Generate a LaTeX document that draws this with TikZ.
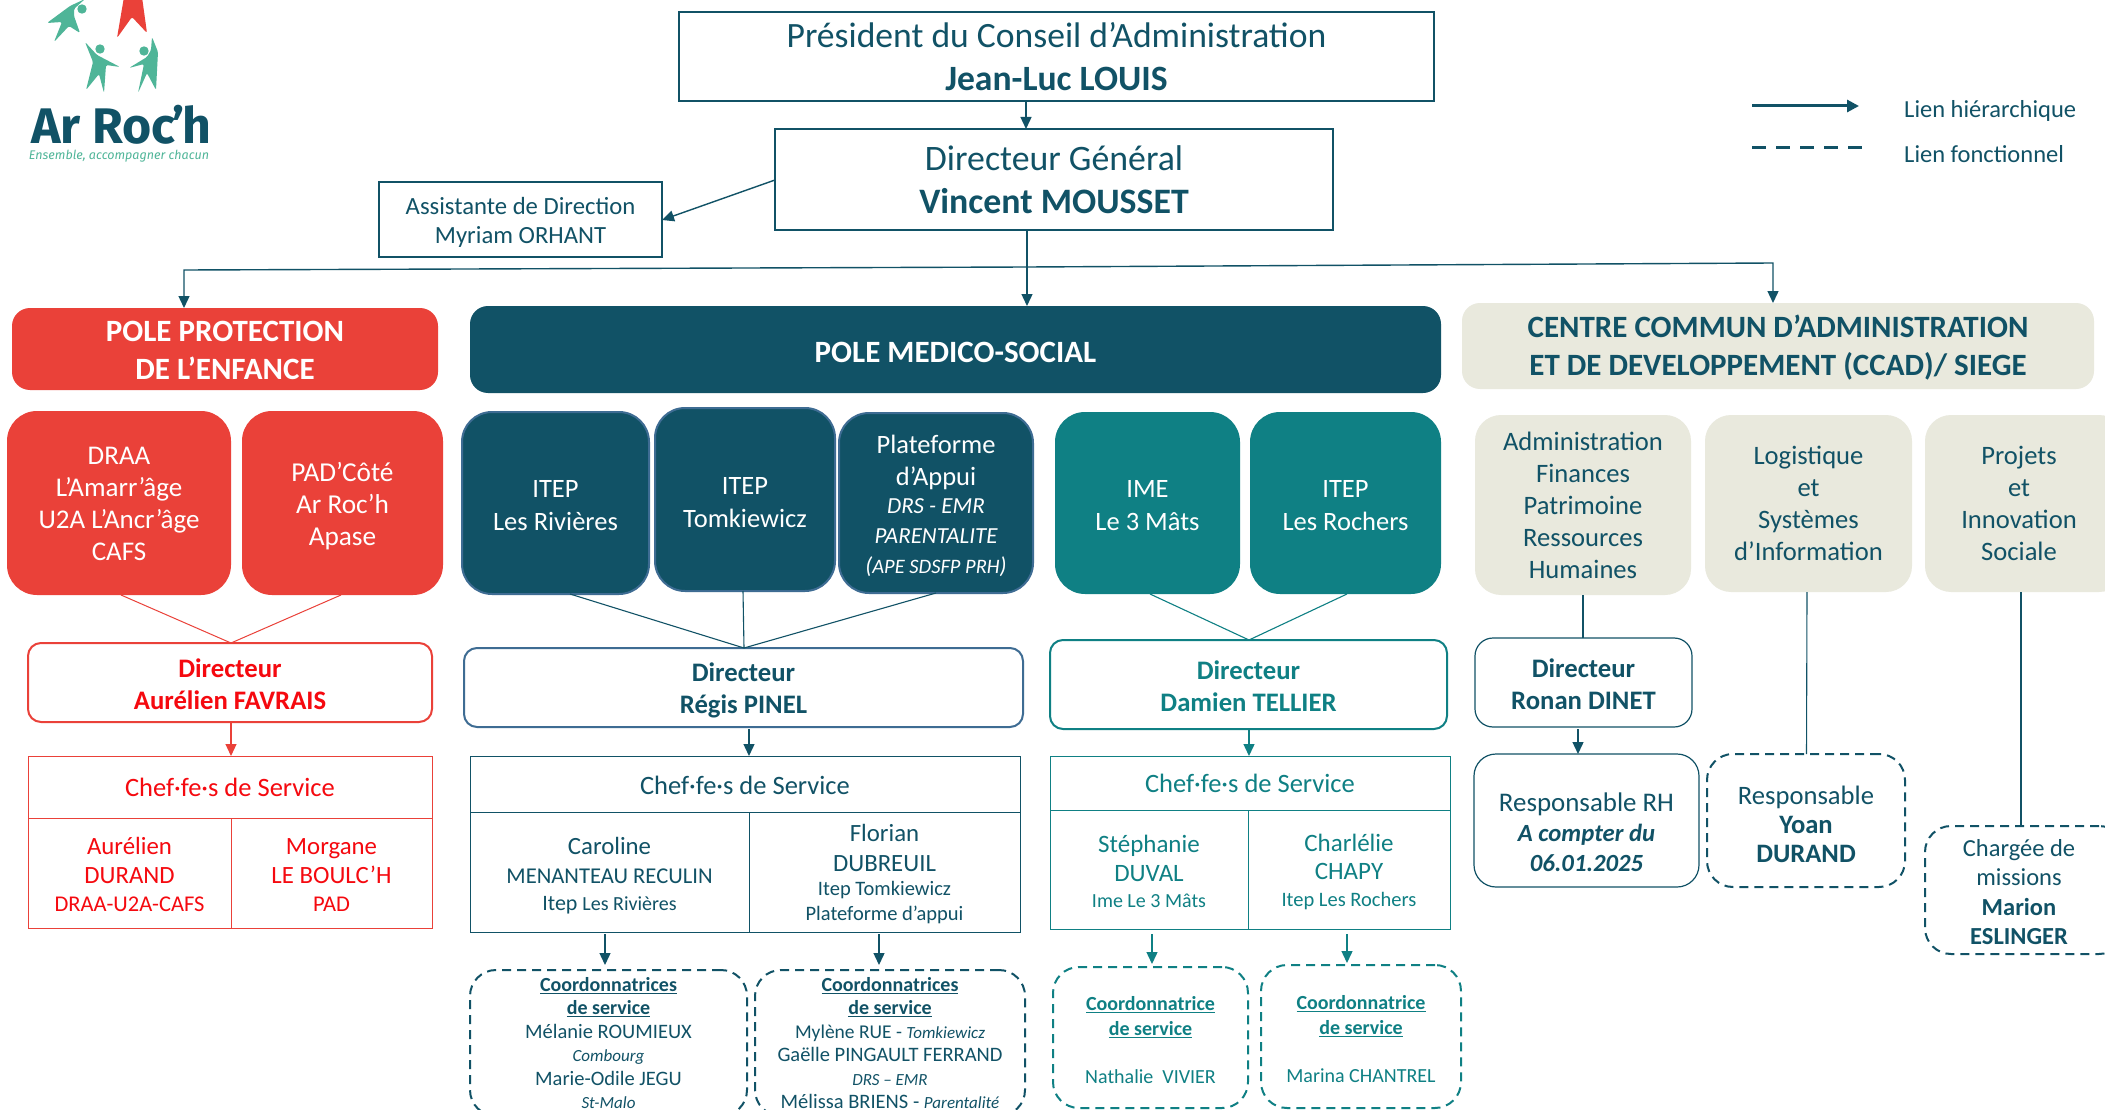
\documentclass[tikz,border=0pt]{standalone}
\usepackage{fontspec}
\setmainfont{Carlito}
\newfontfamily\logofont{Fira Sans}
\usetikzlibrary{arrows.meta}
\definecolor{dk}{HTML}{115266}
\definecolor{tl}{HTML}{0F8084}
\definecolor{rd}{HTML}{EA4139}
\definecolor{rt}{HTML}{F5090F}
\definecolor{bg}{HTML}{E9E9DD}
\definecolor{bl}{HTML}{3E6C93}
\definecolor{lg}{HTML}{4FB598}
\newcommand{\myfs}[2]{\fontsize{#1}{#2}\selectfont}
\newcommand{\bx}[7]{\node[inner sep=0pt,outer sep=0pt,align=center,#6,minimum width={(#4-#2)*1pt},minimum height={(#5-#3)*1pt}] (#1) at ({(#2+#4)/2},{(#3+#5)/2}) {#7};}
\newcommand{\vlink}[4]{\draw[#4] (#1,0 |- #2.south) -- (#1,0 |- #3.north);}
\newcommand{\sz}[2]{{\fontsize{#1}{#1}\selectfont #2}}
\newcommand{\cbold}[1]{{\bfseries\underline{#1}}}
\newcommand{\nd}[1]{\rule{0pt}{\dimexpr0.74em+#1pt\relax}}
\tikzset{
 arr/.style={draw=dk,line width=1.4pt,-{Triangle[width=11pt,length=12pt]}},
 arrt/.style={draw=tl,line width=1.4pt,-{Triangle[width=11pt,length=12pt]}},
 arrr/.style={draw=rd,line width=1.2pt,-{Triangle[width=11pt,length=12pt]}},
 thin1/.style={draw=dk,line width=1.1pt},
 thint/.style={draw=tl,line width=1.1pt},
 thinr/.style={draw=rd,line width=1pt},
 sq/.style={draw=dk,line width=2pt,text=dk},
 solidred/.style={fill=rd,text=white,rounded corners=18pt},
 cellr/.style={draw=rd,line width=0.9pt,text=rt},
 celld/.style={draw=dk,line width=0.9pt,text=dk},
 cellt/.style={draw=tl,line width=0.9pt,text=tl},
 nav/.style={fill=dk,draw=bl,line width=2pt,text=white,rounded corners=30pt},
 tealb/.style={fill=tl,text=white,rounded corners=30pt},
 redb/.style={fill=rd,text=white,rounded corners=30pt},
 begeb/.style={fill=bg,text=dk,rounded corners=26pt},
 dirb/.style={fill=white,rounded corners=13pt,line width=2pt},
 dashd/.style={draw=dk,line width=2pt,dash pattern=on 9pt off 6pt,text=dk,rounded corners=26pt},
 dasht/.style={draw=tl,line width=2pt,dash pattern=on 9pt off 6pt,text=tl,rounded corners=26pt},
 roundd/.style={draw=dk,line width=1.2pt,text=dk,rounded corners=22pt},
}
\begin{document}
\begin{tikzpicture}[x=1pt,y=-1pt]
\useasboundingbox (0,0) rectangle (2105,1110);
\clip (0,0) rectangle (2105,1110);
\fill[white] (0,0) rectangle (2105,1110);
% logo
\fill[lg,rounded corners=1.5pt] (85,-1) -- (70,6) -- (47,23) -- (62,22) -- (54,42) -- (69,26) -- (80,33) -- (74,16) -- (74,9) -- cycle;
\fill[lg] (82,9) circle (4.7);
\fill[rd,rounded corners=2pt] (124,-3) -- (117,38) -- (132,17) -- (147,33) -- (142,-3) -- cycle;
\fill[lg,rounded corners=1.5pt] (85,42) -- (97,55) -- (120,67) -- (106,65) -- (104,93) -- (99,74) -- (86,90) -- (93,62) -- cycle;
\fill[lg] (100,49) circle (4.7);
\fill[lg,rounded corners=1.5pt] (152,37) -- (158,52) -- (156,90) -- (147,73) -- (138,93) -- (144,64) -- (129,68) -- (147,57) -- (151,50) -- cycle;
\fill[lg] (144,51) circle (4.7);
\node[inner sep=0pt,text=dk,anchor=base] (logot) at (121,144) {\logofont\bfseries\myfs{50}{50}Ar Roc\kern-3pt’\kern-3pt h};
\node[inner sep=0pt,text=lg,anchor=base] (logos) at (119,160) {\logofont\itshape\myfs{12.5}{13}Ensemble, accompagner chacun};
% top
\bx{pres}{679}{12}{1434}{101}{sq,font=\myfs{35.6}{43}}{Président du Conseil d’Administration\\\textbf{Jean-Luc LOUIS}}
\bx{dg}{775}{129}{1333}{230}{sq,font=\myfs{35.8}{43}}{Directeur Général\\\textbf{Vincent MOUSSET}}
\bx{asst}{379}{182}{662}{257}{draw=dk,line width=1.6pt,text=dk,font=\myfs{24.7}{29.5}}{\nd{5}Assistante de Direction\\Myriam ORHANT}
% poles
\bx{prot}{12}{308}{438}{390}{solidred,font=\myfs{31}{38}\bfseries}{\nd{0}POLE PROTECTION\\DE L’ENFANCE}
\bx{medico}{470}{306}{1441}{393}{fill=dk,text=white,rounded corners=18pt,font=\myfs{31}{38}\bfseries}{\nd{2.5}POLE MEDICO-SOCIAL}
\bx{ccad}{1462}{303}{2094}{389}{fill=bg,text=dk,rounded corners=18pt,font=\myfs{31}{37.5}\bfseries}{\nd{2.5}CENTRE COMMUN D’ADMINISTRATION\\ET DE DEVELOPPEMENT (CCAD)/ SIEGE}
% top links
\coordinate (hub) at (1027,267);
\draw[arr] (pres.south -| 1026,0) -- (dg.north -| 1026,0);
\draw[arr] (dg.west |- 0,180) -- (asst.east |- 0,220);
\draw[arr] (dg.south -| hub) -- (medico.north -| hub);
\draw[arr] (hub) -- (184,270) -- (184,0 |- prot.north);
\draw[arr] (hub) -- (1773,263) -- (1773,0 |- ccad.north);
% legend
\coordinate (la1) at (1752,106); \coordinate (la2) at (1859,106);
\coordinate (lb1) at (1752,148); \coordinate (lb2) at (1862,148);
\draw[draw=dk,line width=3pt,-{Triangle[width=12pt,length=12pt]}] (la1) -- (la2);
\draw[draw=dk,line width=3pt,dash pattern=on 14pt off 10pt] (lb1) -- (lb2);
\node[anchor=west,inner sep=0pt,text=dk,font=\myfs{24.5}{24}] (lt1) at (1904,111) {Lien hiérarchique};
\node[anchor=west,inner sep=0pt,text=dk,font=\myfs{24.5}{24}] (lt2) at (1904,154) {Lien fonctionnel};
% red column
\bx{draa}{7}{411}{231}{595}{redb,font=\myfs{27}{32}}{\nd{0}DRAA\\L’Amarr’âge\\U2A L’Ancr’âge\\CAFS}
\bx{pad}{242}{411}{443}{595}{redb,font=\myfs{27.3}{32}}{\nd{6}PAD’Côté\\Ar Roc’h\\Apase}
\bx{dirr}{28}{643}{432}{722}{dirb,draw=rd,text=rt,font=\myfs{26.7}{32}\bfseries}{\nd{3}Directeur\\Aurélien FAVRAIS}
\bx{chefr}{28}{756}{432}{818}{cellr,font=\myfs{26.5}{30}}{Chef·fe·s de Service}
\bx{cr1}{28}{818}{231}{928}{cellr,font=\myfs{24.8}{28.5}}{\nd{2}Aurélien\\DURAND\\\sz{22.5}{DRAA-U2A-CAFS}}
\bx{cr2}{231}{818}{432}{928}{cellr,font=\myfs{24.8}{28.5}}{\nd{2}Morgane\\LE BOULC’H\\\sz{22.5}{PAD}}
\draw[thinr] (121,0 |- draa.south) -- (231,0 |- dirr.north);
\draw[thinr] (341,0 |- pad.south) -- (231,0 |- dirr.north);
\vlink{231}{dirr}{chefr}{arrr}
% medico column
\bx{riv}{462}{412}{649}{594}{nav,font=\myfs{26.5}{33}}{\nd{3}ITEP\\Les Rivières}
\bx{tom}{655}{408}{835}{591}{nav,font=\myfs{26.5}{33}}{\nd{3}ITEP\\Tomkiewicz}
\bx{plat}{839}{413}{1033}{593}{nav,font=\myfs{26.5}{30}}{\nd{5}Plateforme\\[2pt]d’Appui\\[-2pt]\sz{23}{\itshape DRS - EMR}\\\sz{23}{\itshape PARENTALITE}\\\sz{23}{\itshape (}\sz{20.5}{\itshape APE SDSFP PRH}\sz{23}{\itshape )}}
\bx{dirp}{464}{648}{1023}{727}{dirb,draw=bl,text=dk,font=\myfs{26.7}{32}\bfseries}{\nd{5}Directeur\\Régis PINEL}
\bx{chefp}{470}{756}{1020}{812}{celld,font=\myfs{26.5}{30}}{\nd{2}Chef·fe·s de Service}
\bx{cp1}{470}{812}{749}{932}{celld,font=\myfs{24.8}{28.5}}{\nd{6}Caroline\\[1pt]\sz{22.6}{MENANTEAU RECULIN}\\[-2pt]\sz{22}{Itep \sz{20}{Les Rivières}}}
\bx{cp2}{749}{812}{1020}{932}{celld,font=\myfs{24.8}{26.5}}{\nd{3}Florian\\[4pt]DUBREUIL\\[-2.5pt]\sz{20.5}{Itep Tomkiewicz}\\[-1.3pt]\sz{20.5}{Plateforme d’appui}}
\draw[thin1] (570,0 |- riv.south) -- (744,0 |- dirp.north);
\draw[thin1] (743,0 |- tom.south) -- (744,0 |- dirp.north);
\draw[thin1] (936,0 |- plat.south) -- (744,0 |- dirp.north);
\vlink{749}{dirp}{chefp}{arr,shorten <=2pt}
\bx{co1}{470}{970}{747}{1116}{dashd,font=\myfs{20}{23.5}}{\cbold{Coordonnatrices}\\\cbold{de service}\\\sz{20.5}{Mélanie ROUMIEUX}\\\sz{17}{\itshape Combourg}\\\sz{20.5}{Marie-Odile JEGU}\\\sz{17}{\itshape St-Malo}}
\bx{co2}{755}{970}{1025}{1116}{dashd,font=\myfs{20}{23.5}}{\cbold{Coordonnatrices}\\\cbold{de service}\\\sz{19.5}{Mylène RUE - \sz{17}{\itshape Tomkiewicz}}\\\sz{20.5}{Gaëlle PINGAULT FERRAND}\\\sz{17}{\itshape DRS – EMR}\\\sz{20.5}{Mélissa BRIENS - \sz{17}{\itshape Parentalité}}}
\vlink{605}{cp1}{co1}{arr,shorten <=2pt,shorten >=5pt}
\vlink{879}{cp2}{co2}{arr,shorten <=2pt,shorten >=5pt}
% teal column
\bx{ime}{1055}{412}{1240}{594}{tealb,font=\myfs{26.5}{33}}{\nd{3}IME\\Le 3 Mâts}
\bx{roc}{1250}{412}{1441}{594}{tealb,font=\myfs{26.5}{33}}{\nd{3}ITEP\\Les Rochers}
\bx{dirt}{1050}{640}{1447}{729}{dirb,draw=tl,text=tl,font=\myfs{26.7}{32}\bfseries}{\nd{3}Directeur\\Damien TELLIER}
\bx{chefd}{1050}{756}{1450}{810}{cellt,font=\myfs{26.5}{30}}{Chef·fe·s de Service}
\bx{ct1}{1050}{810}{1248}{929}{cellt,font=\myfs{25}{28.5}}{\nd{3}Stéphanie\\DUVAL\\[-2pt]\sz{20}{Ime Le 3 Mâts}}
\bx{ct2}{1248}{810}{1450}{929}{cellt,font=\myfs{25}{28.5}}{\nd{3}Charlélie\\CHAPY\\[-2pt]\sz{20.5}{Itep Les Rochers}}
\draw[thint] (1150,0 |- ime.south) -- (1249,0 |- dirt.north);
\draw[thint] (1347,0 |- roc.south) -- (1249,0 |- dirt.north);
\vlink{1249}{dirt}{chefd}{arrt}
\bx{co3}{1053}{967}{1248}{1108}{dasht,font=\myfs{20}{24.5}}{\nd{5}\cbold{Coordonnatrice}\\\cbold{de service}\\[24pt]Nathalie\ \ VIVIER}
\bx{co4}{1261}{965}{1461}{1108}{dasht,font=\myfs{20}{24.5}}{\nd{5}\cbold{Coordonnatrice}\\\cbold{de service}\\[24pt]Marina CHANTREL}
\vlink{1152}{ct1}{co3}{arrt,shorten <=5pt,shorten >=3pt}
\vlink{1347}{ct2}{co4}{arrt,shorten <=5pt,shorten >=2pt}
% right column
\bx{adm}{1475}{415}{1691}{595}{begeb,font=\myfs{26.6}{32}}{Administration\\Finances\\Patrimoine\\Ressources\\Humaines}
\bx{log}{1705}{415}{1912}{592}{begeb,font=\myfs{26.6}{32}}{Logistique\\et\\Systèmes\\d’Information}
\bx{proj}{1925}{415}{2125}{592}{begeb,font=\myfs{26.6}{32}}{\hspace*{-12pt}Projets\\\hspace*{-12pt}et\\\hspace*{-12pt}Innovation\\\hspace*{-12pt}Sociale}
\bx{dirn}{1475}{638}{1692}{727}{draw=dk,line width=1.2pt,text=dk,rounded corners=18pt,font=\myfs{26.7}{32}\bfseries}{\nd{3}Directeur\\Ronan DINET}
\bx{rh}{1474}{754}{1699}{887}{roundd,font=\myfs{26.9}{30}}{\nd{22}Responsable RH\\\sz{24.7}{\bfseries\itshape A compter du}\\\sz{24.7}{\bfseries\itshape 06.01.2025}}
\bx{yoan}{1707}{754}{1905}{887}{dashd,font=\myfs{26.6}{29}}{\nd{6}Responsable\\\textbf{Yoan}\\\textbf{DURAND}}
\bx{charg}{1925}{826}{2125}{954}{dashd,font=\myfs{24.5}{29.5}}{\nd{3}\hspace*{-12pt}Chargée de\\\hspace*{-12pt}missions\\\hspace*{-12pt}\textbf{Marion}\\\hspace*{-12pt}\textbf{ESLINGER}}
\vlink{1583}{adm}{dirn}{thin1}
\vlink{1578}{dirn}{rh}{arr,shorten <=2pt}
\draw[thin1] (1807,0 |- log.south) -- (1806.5,0 |- yoan.north);
\vlink{2021}{proj}{charg}{thin1}
\end{tikzpicture}
\end{document}
